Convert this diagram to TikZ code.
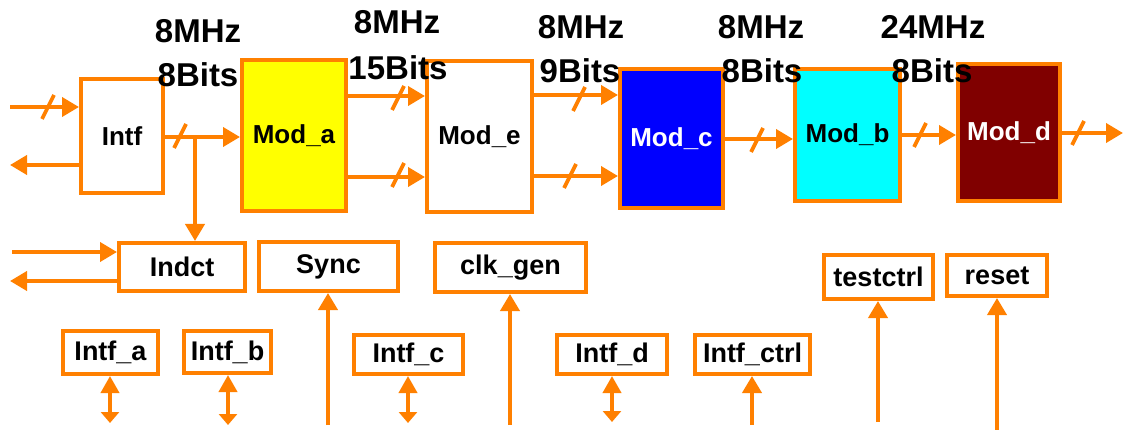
\documentclass[tikz,border=0pt]{standalone}
\usepackage{fontspec}
\setmainfont{Liberation Sans}
\usetikzlibrary{arrows.meta}
\definecolor{org}{HTML}{FF8000}
\definecolor{ylw}{HTML}{FFFF00}
\definecolor{blu}{HTML}{0000FF}
\definecolor{cyn}{HTML}{00FFFF}
\definecolor{drd}{HTML}{800000}
\tikzset{
  box/.style={draw=org, line width=4pt, inner sep=0pt, text=black,
    font=\bfseries\fontsize{26}{26}\selectfont},
  sbox/.style={box, font=\bfseries\fontsize{27}{27}\selectfont},
  conn/.style={draw=org, line width=3.8pt, -{Triangle[length=17pt,width=19pt]}},
  dconn/.style={draw=org, line width=3.8pt, {Triangle[length=17pt,width=18pt]}-{Triangle[length=11pt,width=18pt]}},
  lbl/.style={anchor=base, inner sep=0pt, text=black,
    font=\bfseries\fontsize{33}{33}\selectfont},
  slash/.pic={\draw[org, line width=3.8pt] (-6,12) -- (6,-12);}
}
\begin{document}
\begin{tikzpicture}[x=1pt,y=-1pt]
\useasboundingbox (0,0) rectangle (1124,430);
% main boxes
\node[box, minimum width=82pt, minimum height=114pt] (Intf) at (122,136) {Intf};
\node[box, fill=ylw, minimum width=104pt, minimum height=151pt] (Moda) at (294,135.5) {Mod\_a};
\node[box, minimum width=105pt, minimum height=151pt] (Mode) at (479.5,136.5) {Mod\_e};
\node[box, fill=blu, text=white, minimum width=103pt, minimum height=139pt] (Modc) at (671.5,138.5) {Mod\_c};
\node[box, fill=cyn, minimum width=105pt, minimum height=132pt] (Modb) at (847.5,135) {Mod\_b};
\node[box, fill=drd, text=white, minimum width=102pt, minimum height=137pt] (Modd) at (1009,132.5) {Mod\_d};
% lower boxes
\node[sbox, minimum width=126pt, minimum height=48pt] (Indct) at (182,267) {Indct};
\node[sbox, minimum width=139pt, minimum height=49pt] (Sync) at (328.5,266.5) {Sync};
\node[sbox, minimum width=151pt, minimum height=49pt] (Clk) at (510.5,267.5) {clk\_gen};
\node[sbox, minimum width=109pt, minimum height=44pt] (Test) at (878.5,277) {testctrl};
\node[sbox, minimum width=100pt, minimum height=41pt] (Reset) at (997,275.5) {reset};
\node[sbox, minimum width=95pt, minimum height=43pt] (Intfa) at (110.5,352.5) {Intf\_a};
\node[sbox, minimum width=87pt, minimum height=42pt] (Intfb) at (227.5,352) {Intf\_b};
\node[sbox, minimum width=109pt, minimum height=39pt] (Intfc) at (408.5,354.5) {Intf\_c};
\node[sbox, minimum width=110pt, minimum height=39pt] (Intfd) at (612,354.5) {Intf\_d};
\node[sbox, minimum width=115pt, minimum height=39pt] (Intfctrl) at (752.5,354.5) {Intf\_ctrl};
% free ends
\coordinate (inA) at (10,107);
\coordinate (outA) at (10,165);
\coordinate (br) at (195,137);
\coordinate (outD) at (1123,133);
\coordinate (inB) at (12,252);
\coordinate (outB) at (10,281);
\coordinate (ea) at (110,423);
\coordinate (eb) at (228,425);
\coordinate (ec) at (408,423);
\coordinate (ed) at (612,422);
\coordinate (es) at (328,425);
\coordinate (ek) at (510,425);
\coordinate (ei) at (752,425);
\coordinate (et) at (878,422);
\coordinate (er) at (997,430);
% top connectors
\draw[conn] (inA) -- (Intf.west |- inA);
\draw[conn] (Intf.west |- outA) -- (outA);
\draw[conn] (Intf.east |- br) -- (Moda.west |- br);
\draw[conn] (br) -- (Indct.north -| br);
\draw[conn] (Moda.east |- 0,96) -- (Mode.west |- 0,96);
\draw[conn] (Moda.east |- 0,177) -- (Mode.west |- 0,177);
\draw[conn] (Mode.east |- 0,95) -- (Modc.west |- 0,95);
\draw[conn] (Mode.east |- 0,176) -- (Modc.west |- 0,176);
\draw[conn] (Modc.east |- 0,139) -- (Modb.west |- 0,139);
\draw[conn] (Modb.east |- 0,135) -- (Modd.west |- 0,135);
\draw[conn] (Modd.east |- outD) -- (outD);
% bus slashes
\pic at (48,107) {slash};
\pic at (180,136) {slash};
\pic at (398,98) {slash};
\pic at (398,175) {slash};
\pic at (579,99) {slash};
\pic at (570,176) {slash};
\pic at (757,140) {slash};
\pic at (920,135) {slash};
\pic at (1078,133) {slash};
% Indct connectors
\draw[conn] (inB) -- (Indct.west |- inB);
\draw[conn] (Indct.west |- outB) -- (outB);
% lower connectors
\draw[dconn] (Intfa.south -| ea) -- (ea);
\draw[dconn] (Intfb.south -| eb) -- (eb);
\draw[dconn] (Intfc.south -| ec) -- (ec);
\draw[dconn] (Intfd.south -| ed) -- (ed);
\draw[conn] (es) -- (Sync.south -| es);
\draw[conn] (ek) -- (Clk.south -| ek);
\draw[conn] (ei) -- (Intfctrl.south -| ei);
\draw[conn] (et) -- (Test.south -| et);
\draw[conn] (er) -- (Reset.south -| er);
% labels
\node[lbl] (f1) at (198,43) {8MHz};
\node[lbl] (b1) at (198,87) {8Bits};
\node[lbl] (f2) at (397,34) {8MHz};
\node[lbl] (b2) at (398,80) {15Bits};
\node[lbl] (f3) at (581,39) {8MHz};
\node[lbl] (b3) at (580,83) {9Bits};
\node[lbl] (f4) at (761,39) {8MHz};
\node[lbl] (b4) at (762,83) {8Bits};
\node[lbl] (f5) at (933,39) {24MHz};
\node[lbl] (b5) at (932,83) {8Bits};
\end{tikzpicture}
\end{document}
